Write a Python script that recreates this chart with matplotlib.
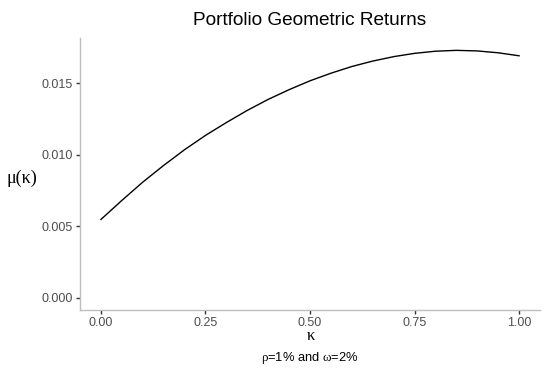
import matplotlib
matplotlib.use('Agg')
import matplotlib.pyplot as plt

# Values
kappa = [0.00, 0.05, 0.10, 0.15, 0.20, 0.25, 0.30, 0.35, 0.40, 0.45, 0.50,
         0.55, 0.60, 0.65, 0.70, 0.75, 0.80, 0.85, 0.90, 0.95, 1.00]
mu = [0.00547, 0.00680, 0.00808, 0.00925, 0.01035, 0.01135, 0.01225, 0.01310,
      0.01387, 0.01455, 0.01517, 0.01570, 0.01617, 0.01655, 0.01686, 0.01709,
      0.01724, 0.01730, 0.01726, 0.01713, 0.01692]

x_ticks = [0.00, 0.25, 0.50, 0.75, 1.00]
x_labels = ['0.00', '0.25', '0.50', '0.75', '1.00']
y_ticks = [0.000, 0.005, 0.010, 0.015]
y_labels = ['0.000', '0.005', '0.010', '0.015']

plt.rcParams['font.family'] = ['Liberation Sans', 'DejaVu Sans']
plt.rcParams['mathtext.fontset'] = 'custom'
plt.rcParams['mathtext.rm'] = 'Liberation Sans'
plt.rcParams['mathtext.it'] = 'Liberation Serif'

fig = plt.figure(figsize=(5.5, 3.71), dpi=100)
ax = fig.add_axes([0.1455, 0.1644, 0.8363, 0.7332])

ax.plot(kappa, mu, color='black', linewidth=1.0)

# ggplot style 5% expansion
xr = max(kappa) - min(kappa)
ax.set_xlim(min(kappa) - 0.05 * xr, max(kappa) + 0.05 * xr)
ymax = max(mu)
ax.set_ylim(-0.05 * ymax, ymax * 1.05)

ax.set_xticks(x_ticks)
ax.set_xticklabels(x_labels)
ax.set_yticks(y_ticks)
ax.set_yticklabels(y_labels)

for side in ['top', 'right']:
    ax.spines[side].set_visible(False)
for side in ['left', 'bottom']:
    ax.spines[side].set_color('#bdbdbd')
    ax.spines[side].set_linewidth(1.0)

ax.tick_params(axis='both', colors='#333333', labelcolor='#4d4d4d',
               labelsize=9, length=3, width=1, pad=2)

fig.text(0.5636, 0.945, 'Portfolio Geometric Returns', ha='center', va='center',
         fontsize=13.7, color='black')
fig.text(0.040, 0.52, 'μ(κ)', ha='center', va='center', fontsize=13,
         family='Liberation Serif', color='black')
fig.text(0.5654, 0.093, 'κ', ha='center', va='center', fontsize=12,
         family='Liberation Serif', color='black')
fig.text(0.5636, 0.035, r'$\rho$=1% and $\omega$=2%', ha='center', va='center',
         fontsize=9.3, color='black')

fig.savefig('out.png', dpi=100)
